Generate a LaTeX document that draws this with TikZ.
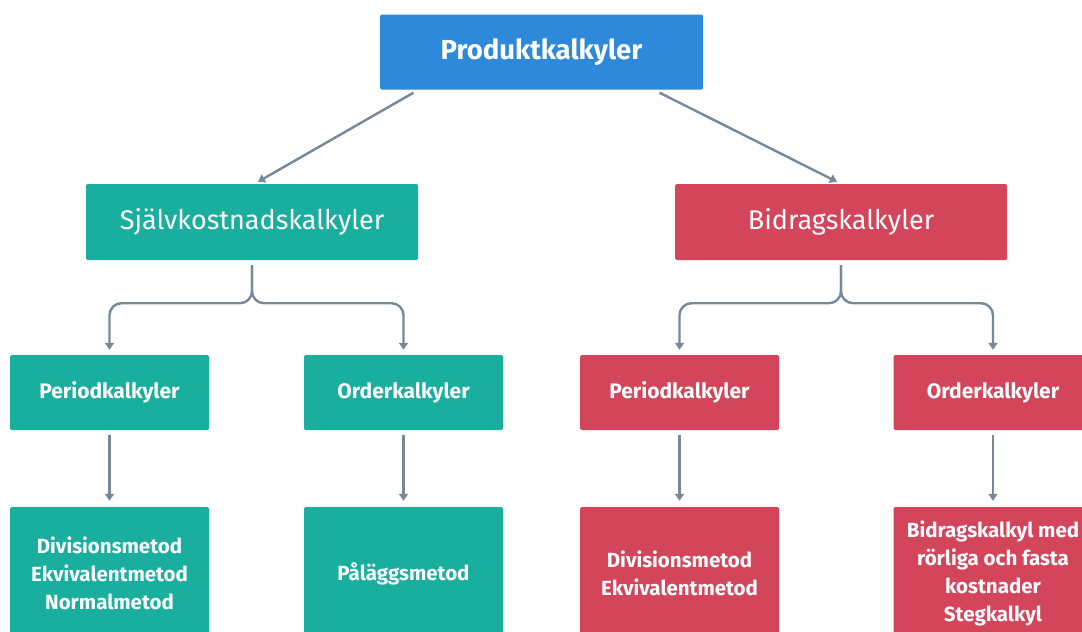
\documentclass[tikz,border=0pt]{standalone}
\usepackage{fontspec}
\setmainfont{Fira Sans}
\usetikzlibrary{arrows.meta}
\definecolor{topblue}{HTML}{2E89DA}
\definecolor{teal}{HTML}{1AAE9F}
\definecolor{rose}{HTML}{D3455B}
\definecolor{wire}{HTML}{788896}
\tikzset{
	box/.style     = {rectangle, rounded corners=1.5pt, inner sep=0pt, text=white,
		align=center},
	rootbox/.style = {box, fill=topblue, minimum width=323pt, minimum height=75pt,
		font=\fontsize{27.5}{32}\selectfont\bfseries},
	mainbox/.style = {box, minimum width=332pt, minimum height=76pt,
		font=\fontsize{27}{32}\selectfont},
	subbox/.style  = {box, minimum width=199pt, minimum height=75pt,
		font=\fontsize{21}{25}\selectfont\bfseries},
	leafbox/.style = {box, minimum width=199pt, minimum height=133pt,
		font=\fontsize{20.5}{28}\selectfont\bfseries},
	link/.style    = {draw=wire, line width=2.4pt,
		-{Triangle[width=9pt,length=7pt]}}
}

\begin{document}
\begin{tikzpicture}[x=1pt, y=-1pt]
	\useasboundingbox (0,0) rectangle (1082,632);
	\draw
	% Top level
	node at (541.5,52) [rootbox] (pk) {Produktkalkyler}
	% Second level
	node at (252,222) [mainbox, fill=teal] (sk) {Självkostnadskalkyler}
	node at (841,222) [mainbox, fill=rose] (bk) {Bidragskalkyler}
	% Third level
	node at (109.5,392.5) [subbox, fill=teal] (skp) {Periodkalkyler}
	node at (403.5,392.5) [subbox, fill=teal] (sko) {Orderkalkyler}
	node at (679.5,392.5) [subbox, fill=rose] (bkp) {Periodkalkyler}
	node at (993,392.5) [subbox, fill=rose] (bko) {Orderkalkyler}
	% Methods
	node at (109.5,573.5) [leafbox, fill=teal] (skpm) {Divisionsmetod\\Ekvivalentmetod\\Normalmetod}
	node at (403.5,573.5) [leafbox, fill=teal] (skom) {Påläggsmetod}
	node at (679.5,573.5) [leafbox, fill=rose] (bkpm) {Divisionsmetod\\Ekvivalentmetod}
	node at (993,573.5) [leafbox, fill=rose] (bkom) {Bidragskalkyl med\\rörliga och fasta\\kostnader\\Stegkalkyl}
	;

	\draw[link] ([xshift=-128pt,yshift=-3pt]pk.south) -- ([xshift=6pt,yshift=2pt]sk.north);
	\draw[link] ([xshift=118pt,yshift=-3pt]pk.south) -- ([xshift=-4pt,yshift=2pt]bk.north);

	\draw[link, rounded corners=12pt] ([yshift=-5pt]sk.south) -- ++(0,38) -| ([yshift=5pt]skp.north);
	\draw[link, rounded corners=12pt] ([yshift=-5pt]sk.south) -- ++(0,38) -| ([yshift=5pt]sko.north);
	\draw[link, rounded corners=12pt] ([yshift=-5pt]bk.south) -- ++(0,38) -| ([yshift=5pt]bkp.north);
	\draw[link, rounded corners=12pt] ([yshift=-5pt]bk.south) -- ++(0,38) -| ([yshift=5pt]bko.north);

	\draw[link] ([yshift=-5pt]skp.south) -- ([yshift=6pt]skpm.north);
	\draw[link] ([yshift=-5pt]sko.south) -- ([yshift=6pt]skom.north);
	\draw[link] ([yshift=-5pt]bkp.south) -- ([yshift=6pt]bkpm.north);
	\draw[link] ([yshift=-5pt]bko.south) -- ([yshift=6pt]bkom.north);
\end{tikzpicture}
\end{document}
